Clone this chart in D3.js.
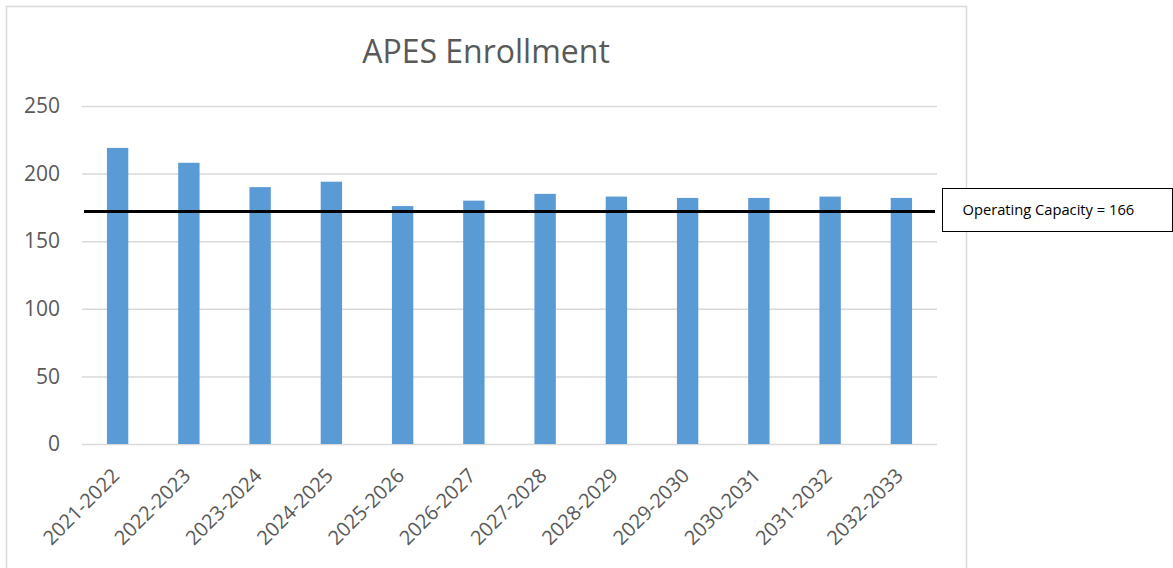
<!DOCTYPE html>
<html>
<head>
<meta charset="utf-8">
<script src="https://cdn.jsdelivr.net/npm/d3@7"></script>
<style>
    body { margin: 0; background: #fff; }
    svg { display: block; font-family: "Open Sans", sans-serif; }
</style>
</head>
<body>
<svg id="chart" width="1173" height="568"></svg>
<script>
// school years shown on the x axis
var years = ["2021-2022", "2022-2023", "2023-2024", "2024-2025", "2025-2026", "2026-2027",
    "2027-2028", "2028-2029", "2029-2030", "2030-2031", "2031-2032", "2032-2033"];
// enrollment per year
var enrollment = [219, 208, 190, 194, 176, 180, 185, 183, 182, 182, 183, 182];
var yTicks = [0, 50, 100, 150, 200, 250];
// level where the black capacity line is drawn, and its callout
var capacityLevel = 172;
var capacityLabel = "Operating Capacity = 166";
var chartTitle = "APES Enrollment";

var svg = d3.select("#chart"),
    font = "'Open Sans', sans-serif",
    textColor = "#595959",
    gridColor = "#d9d9d9",
    barColor = "#5b9bd5";

var plot = {left: 82, right: 937, top: 106, bottom: 444};

// outer chart frame
svg.append("rect")
    .attr("x", 6.5).attr("y", 6.5)
    .attr("width", 960).attr("height", 580)
    .attr("fill", "none")
    .attr("stroke", gridColor)
    .attr("stroke-width", 1.5);

var x = d3.scaleBand()
    .domain(years)
    .range([plot.left, plot.right])
    .paddingInner(0.7)
    .paddingOuter(0.35);

var y = d3.scaleLinear()
    .domain([0, 250])
    .range([plot.bottom, plot.top]);

// title
svg.append("text")
    .attr("x", 486).attr("y", 62.5)
    .attr("text-anchor", "middle")
    .attr("fill", textColor)
    .style("font-size", "32px")
    .text(chartTitle);

// gridlines + y labels
var yAxis = d3.axisLeft(y)
    .tickValues(yTicks)
    .tickSize(-(plot.right - plot.left))
    .tickPadding(22);

svg.append("g")
    .attr("transform", `translate(${plot.left},0)`)
    .call(yAxis)
    .attr("font-family", font)
    .call(g => g.select(".domain").remove())
    .call(g => g.selectAll("line").attr("stroke", gridColor).attr("stroke-width", 1.5))
    .call(g => g.selectAll("text")
        .attr("fill", textColor)
        .style("font-size", "21px"));

// bars
svg.append("g")
    .selectAll("rect")
    .data(enrollment)
    .enter().append("rect")
    .attr("x", (d, i) => x(years[i]))
    .attr("y", d => y(d))
    .attr("width", x.bandwidth())
    .attr("height", d => y(0) - y(d))
    .attr("fill", barColor);

// x labels, rotated
var xAxis = d3.axisBottom(x).tickSize(0).tickPadding(0);
svg.append("g")
    .attr("transform", `translate(0,${plot.bottom})`)
    .call(xAxis)
    .attr("font-family", font)
    .call(g => g.select(".domain").remove())
    .call(g => g.selectAll("text")
        .attr("fill", textColor)
        .style("font-size", "20px")
        .attr("text-anchor", "end")
        .attr("y", 0)
        .attr("dy", 0)
        .attr("transform", "translate(3,33) rotate(-45)"));

// capacity line
svg.append("line")
    .attr("x1", plot.left + 2).attr("x2", plot.right - 2)
    .attr("y1", y(capacityLevel)).attr("y2", y(capacityLevel))
    .attr("stroke", "#000")
    .attr("stroke-width", 3);

// callout box
var callout = svg.append("g").attr("transform", "translate(942.5,188.5)");
callout.append("rect")
    .attr("width", 230).attr("height", 43)
    .attr("fill", "#fff")
    .attr("stroke", "#000")
    .attr("stroke-width", 1);
callout.append("text")
    .attr("x", 20).attr("y", 26.5)
    .attr("fill", "#000")
    .style("font-size", "14.7px")
    .text(capacityLabel);
</script>
</body>
</html>
